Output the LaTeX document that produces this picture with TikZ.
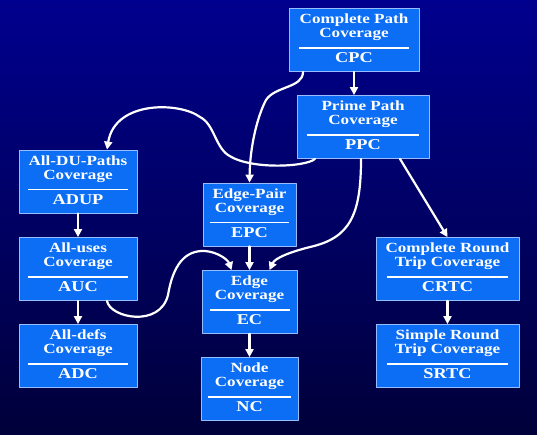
\documentclass[tikz,border=0pt]{standalone}
\usepackage{fontspec}
\newfontfamily\covfont{Liberation Serif}[FakeStretch=1.22]
\usetikzlibrary{arrows.meta}
\definecolor{slidetop}{RGB}{0,0,142}
\definecolor{slidebot}{RGB}{0,0,58}
\definecolor{boxblue}{RGB}{12,110,245}
\definecolor{boxedge}{RGB}{150,190,255}
% title lines, rule, abbreviation
\newcommand{\covtext}[3]{#1\\[-3pt]\rule{#3pt}{1.5pt}\\\fontsize{15}{14}\selectfont #2}
\begin{document}
\begin{tikzpicture}[x=1pt, y=-1pt, line join=round, line cap=round, >={Triangle[length=8pt,width=8pt]},
	covbox/.style={draw=boxedge, line width=0.8pt, fill=boxblue, text=white, minimum height=63pt, inner sep=0pt,
		align=center, text depth=3.5pt, font=\covfont\bfseries\fontsize{14}{14}\selectfont},
	conn/.style={draw=white, line width=2.2pt, ->}]
	\fill[top color=slidetop, bottom color=slidebot] (0,0) rectangle (537,434);
	\useasboundingbox (0,0) rectangle (537,434);
	% boxes
	\node[covbox, minimum width=130pt] (cpc) at (354,40) {\covtext{Complete Path\\Coverage}{CPC}{110}};
	\node[covbox, minimum width=132pt] (ppc) at (363,127) {\covtext{Prime Path\\Coverage}{PPC}{112}};
	\node[covbox, minimum width=118pt] (adup) at (78,181.5) {\covtext{All-DU-Paths\\Coverage}{ADUP}{100}};
	\node[covbox, minimum width=93pt] (epc) at (249.5,214.5) {\covtext{Edge-Pair\\Coverage}{EPC}{79}};
	\node[covbox, minimum width=118pt] (auc) at (78,269) {\covtext{All-uses\\Coverage}{AUC}{100}};
	\node[covbox, minimum width=95pt] (ec) at (249.5,302) {\covtext{Edge\\Coverage}{EC}{80}};
	\node[covbox, minimum width=118pt] (adc) at (78,356) {\covtext{All-defs\\Coverage}{ADC}{100}};
	\node[covbox, minimum width=97pt] (nc) at (249.5,389) {\covtext{Node\\Coverage}{NC}{83}};
	\node[covbox, minimum width=143pt] (crtc) at (447.5,269) {\covtext{Complete Round\\Trip Coverage}{CRTC}{121}};
	\node[covbox, minimum width=143pt] (srtc) at (447.5,356) {\covtext{Simple Round\\Trip Coverage}{SRTC}{121}};
	% straight arrows
	\draw[conn] (cpc.south) -- (cpc.south |- ppc.north);
	\draw[conn] (adup) -- (auc);
	\draw[conn] (auc) -- (adc);
	\draw[conn] (epc) -- (ec);
	\draw[conn] (ec) -- (nc);
	\draw[conn] (crtc) -- (srtc);
	\draw[conn] ([xshift=37pt]ppc.south) -- (crtc.north);
	% curved arrows
	\draw[conn] ([xshift=-51pt]cpc.south) .. controls (303,88) and (275,86) .. (266,100)
		.. controls (258,115) and (250,145) .. (epc.north);
	\draw[conn] ([xshift=-48pt]ppc.south) .. controls (306,167) and (250,170) .. (228,155)
		.. controls (215,146) and (214,124) .. (200,117)
		.. controls (180,102) and (115,100) .. ([xshift=29pt]adup.north);
	\draw[conn] ([xshift=-2pt]ppc.south) .. controls (361,215) and (350,238) .. (310,247)
		.. controls (290,252) and (275,258) .. ([xshift=20pt]ec.north);
	\draw[conn] ([xshift=29pt]auc.south) .. controls (110,318) and (160,328) .. (168,295)
		.. controls (173,265) and (185,250) .. (205,251)
		.. controls (218,252) and (228,260) .. ([xshift=-18pt]ec.north);
\end{tikzpicture}
\end{document}
